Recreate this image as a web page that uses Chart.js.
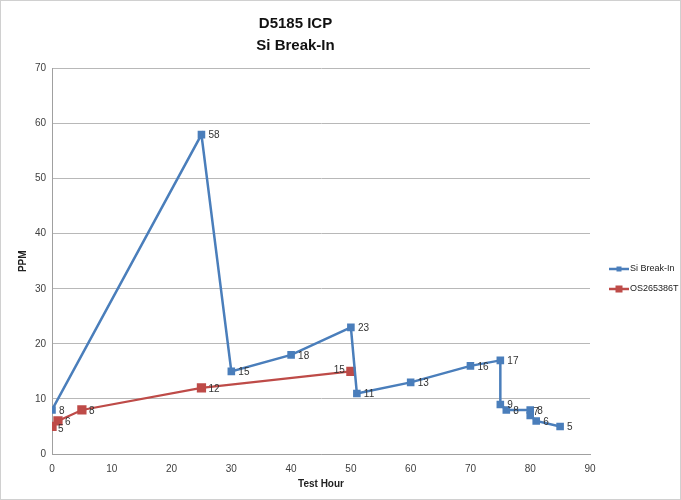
<!DOCTYPE html>
<html>
<head>
<meta charset="utf-8">
<script src="https://cdn.jsdelivr.net/npm/chart.js@4"></script>
<style>
  html, body { margin: 0; padding: 0; background: #fff; }
  #wrap { width: 681px; height: 500px; box-sizing: border-box; border: 1px solid #d0d0d0; }
</style>
</head>
<body>
<div id="wrap"><canvas id="icpChart"></canvas></div>
<script>
// Si Break-In series
const siHours = [0, 25, 30, 40, 50, 51, 60, 70, 75, 75, 76, 80, 80, 81, 85];
const siPpm = [8, 58, 15, 18, 23, 11, 13, 16, 17, 9, 8, 8, 7, 6, 5];
// OS265386T series
const osHours = [0, 1, 5, 25, 50];
const osPpm = [5, 6, 8, 12, 15];

const titleLines = ['D5185 ICP', 'Si Break-In'];
const seriesNames = ['Si Break-In', 'OS265386T'];
const blue = '#4a7ebb';
const red = '#be4b48';

function toPoints(xs, ys) {
  return xs.map((x, i) => ({ x: x, y: ys[i] }));
}

// label placement tweaks (dataset index -> point index -> [dx, dy, align])
const labelTweaks = {
  '1-0': [6, 3, 'left'],
  '1-4': [-6, -1, 'right'],
  '0-12': [3, -3, 'left']
};

const ctx = document.getElementById('icpChart').getContext('2d');
const chart = new Chart(ctx, {
  type: 'scatter',
  data: {
    datasets: [
      {
        label: seriesNames[0],
        data: toPoints(siHours, siPpm),
        showLine: true,
        borderColor: blue,
        backgroundColor: blue,
        borderWidth: 2.5,
        pointStyle: 'rect',
        pointRadius: 3.6,
        pointHoverRadius: 3.6
      },
      {
        label: seriesNames[1],
        data: toPoints(osHours, osPpm),
        showLine: true,
        borderColor: red,
        backgroundColor: red,
        borderWidth: 2.2,
        pointStyle: 'rect',
        pointRadius: 5,
        pointHoverRadius: 5
      }
    ]
  },
  options: {
    responsive: true,
    maintainAspectRatio: false,
    animation: false,
    layout: { padding: { top: 0, right: 90, left: 0, bottom: 5 } },
    scales: {
      x: {
        type: 'linear',
        min: 0,
        max: 90,
        ticks: { stepSize: 10, color: '#404040', font: { family: 'Liberation Sans', size: 10 }, padding: 5 },
        grid: { display: false, drawTicks: true, tickLength: 4, color: '#b0b0b0' },
        border: { color: '#a0a0a0' },
        title: { display: true, text: 'Test Hour', color: '#222', font: { family: 'Liberation Sans', size: 10, weight: 'bold' }, padding: { top: 4 } },
        afterFit: function(scale) { scale.height = 40; }
      },
      y: {
        type: 'linear',
        min: 0,
        max: 70,
        ticks: { stepSize: 10, color: '#404040', font: { family: 'Liberation Sans', size: 10 }, padding: 6 },
        grid: { color: '#b8b8b8', drawTicks: false },
        border: { color: '#a0a0a0' },
        title: { display: true, text: 'PPM', color: '#222', font: { family: 'Liberation Sans', size: 10, weight: 'bold' }, padding: { top: 16, bottom: 0 } },
        afterFit: function(scale) { scale.width = 51; }
      }
    },
    plugins: {
      legend: { display: false },
      tooltip: { enabled: false },
      title: {
        display: true,
        text: titleLines,
        color: '#111',
        font: { family: 'Liberation Sans', size: 15, weight: 'bold', lineHeight: 1.45 },
        padding: { top: 12, bottom: 12 }
      }
    }
  },
  plugins: [{
    id: 'valueLabels',
    afterDatasetsDraw: function(chart) {
      const c = chart.ctx;
      c.save();
      c.font = '10px "Liberation Sans"';
      c.fillStyle = '#333';
      c.textBaseline = 'middle';
      chart.data.datasets.forEach((ds, di) => {
        const meta = chart.getDatasetMeta(di);
        ds.data.forEach((pt, i) => {
          const el = meta.data[i];
          const t = labelTweaks[di + '-' + i] || [7, 1, 'left'];
          c.textAlign = t[2];
          c.fillText(String(pt.y), el.x + t[0], el.y + t[1]);
        });
      });
      c.restore();
    }
  }, {
    id: 'sideLegend',
    afterDraw: function(chart) {
      const c = chart.ctx;
      const colors = [blue, red];
      const sizes = [5, 7];
      const x0 = chart.chartArea.right + 19;
      c.save();
      c.font = '9px "Liberation Sans"';
      c.textBaseline = 'middle';
      seriesNames.forEach((name, i) => {
        const y = 268 + i * 20;
        c.strokeStyle = colors[i];
        c.lineWidth = 2.5;
        c.beginPath();
        c.moveTo(x0, y);
        c.lineTo(x0 + 20, y);
        c.stroke();
        c.fillStyle = colors[i];
        c.fillRect(x0 + 10 - sizes[i] / 2, y - sizes[i] / 2, sizes[i], sizes[i]);
        c.fillStyle = '#222';
        c.fillText(name, x0 + 21, y);
      });
      c.restore();
    }
  }]
});
</script>
</body>
</html>
